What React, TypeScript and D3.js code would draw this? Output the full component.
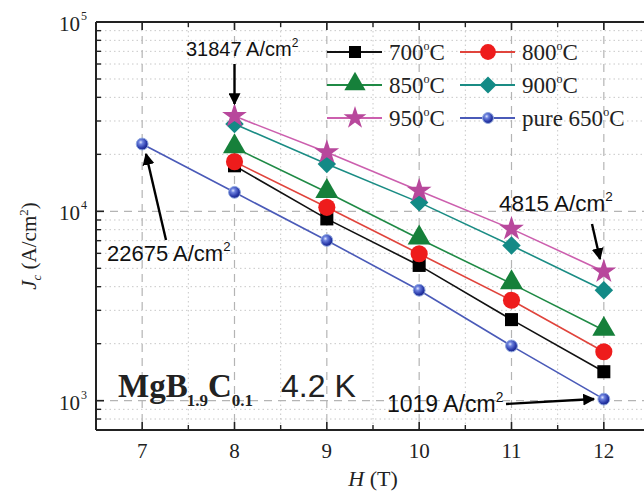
import React from "react";
import * as d3 from "d3";

const fields = [7, 8, 9, 10, 11, 12];
const jc700 = [null, 17400, 9120, 5180, 2680, 1422];
const jc800 = [null, 18300, 10500, 5970, 3390, 1812];
const jc850 = [null, 21700, 12600, 7160, 4150, 2356];
const jc900 = [null, 28900, 17800, 11150, 6600, 3830];
const jc950 = [null, 31847, 20500, 12850, 8080, 4815];
const jcPure = [22675, 12600, 7020, 3830, 1946, 1019];

const seriesNames = ["700°C", "800°C", "850°C", "900°C", "950°C", "pure 650°C"];
const xTicks = [7, 8, 9, 10, 11, 12];
const yMajor = [1000, 10000, 100000];

const W = 644, H = 495;
const x = d3.scaleLinear().domain([6.5, 12.5]).range([96, 650]);
const y = d3.scaleLog().domain([700, 100000]).range([430, 22]);

type S = { name: string; vals: (number | null)[]; line: string; fill: string; shape: string; size: number };
const series: S[] = [
  { name: seriesNames[0], vals: jc700, line: "#111", fill: "#000", shape: "square", size: 170 },
  { name: seriesNames[1], vals: jc800, line: "#e0443c", fill: "#ee1c1c", shape: "circle", size: 230 },
  { name: seriesNames[2], vals: jc850, line: "#1f8a45", fill: "#16803a", shape: "triangle", size: 230 },
  { name: seriesNames[3], vals: jc900, line: "#1a8c84", fill: "#138a86", shape: "diamond", size: 170 },
  { name: seriesNames[4], vals: jc950, line: "#cc5fae", fill: "#b8489c", shape: "star", size: 190 },
  { name: seriesNames[5], vals: jcPure, line: "#4a5ab8", fill: "url(#sph)", shape: "sphere", size: 110 },
];

function Marker({ s, cx, cy, scale = 1 }: { s: S; cx: number; cy: number; scale?: number }) {
  const sz = s.size * scale;
  if (s.shape === "sphere") {
    const r = Math.sqrt(sz / Math.PI);
    return <circle cx={cx} cy={cy} r={r} fill="url(#sph)" stroke="#8fa8e0" strokeWidth={1} />;
  }
  let type: any = d3.symbolSquare;
  let rot = 0;
  if (s.shape === "circle") type = d3.symbolCircle;
  if (s.shape === "triangle") type = d3.symbolTriangle;
  if (s.shape === "star") type = d3.symbolStar;
  if (s.shape === "diamond") { type = d3.symbolSquare; rot = 45; }
  const path = d3.symbol().type(type).size(sz)() as string;
  const dy = s.shape === "triangle" ? -1 : 0;
  return <path d={path} transform={`translate(${cx},${cy + dy}) rotate(${rot})`} fill={s.fill} />;
}

function Arrow({ x1, y1, x2, y2 }: { x1: number; y1: number; x2: number; y2: number }) {
  return <line x1={x1} y1={y1} x2={x2} y2={y2} stroke="#000" strokeWidth={2.4} markerEnd="url(#arr)" />;
}

function Ann({ x: tx, y: ty, v, fs }: { x: number; y: number; v: string; fs: number }) {
  return (
    <text x={tx} y={ty} fontFamily="Liberation Sans, Arial, sans-serif" fontSize={fs} fill="#111">
      {v} A/cm<tspan dy={-fs * 0.45} fontSize={fs * 0.6}>2</tspan>
    </text>
  );
}

export default function App() {
  const [left, right] = x.range();
  const [bottom, top] = y.range();
  const minorY: number[] = [];
  for (let e = 2; e <= 4; e++) for (let k = 1; k <= 9; k++) {
    const v = k * Math.pow(10, e);
    if (v >= 700 && v <= 100000 && k !== 1) minorY.push(v);
  }
  const minorX = [7.5, 8.5, 9.5, 10.5, 11.5, 12.5];
  const lineGen = d3.line<[number, number | null]>()
    .defined((d) => d[1] !== null)
    .x((d) => x(d[0]))
    .y((d) => y(d[1] as number));

  const legendRows = [52, 85, 118];
  const legendCols = [327, 460];

  return (
    <svg width={W} height={H} style={{ position: "absolute", left: 0, top: 0, background: "#fff" }}>
      <defs>
        <radialGradient id="sph" cx="0.38" cy="0.35" r="0.7">
          <stop offset="0" stopColor="#dfe6ff" />
          <stop offset="0.25" stopColor="#6d82de" />
          <stop offset="0.7" stopColor="#2838a8" />
          <stop offset="1" stopColor="#1a2380" />
        </radialGradient>
        <marker id="arr" viewBox="0 0 10 10" refX="9" refY="5" markerWidth="5" markerHeight="5" orient="auto" markerUnits="strokeWidth">
          <path d="M0,0 L10,5 L0,10 z" fill="#000" />
        </marker>
        <clipPath id="plot"><rect x={left} y={top} width={right - left} height={bottom - top} /></clipPath>
      </defs>

      {/* grid */}
      <g clipPath="url(#plot)">
        {minorY.map((v) => (
          <line key={"gy" + v} x1={left} x2={right} y1={y(v)} y2={y(v)} stroke="#c8c8c8" strokeWidth={1} strokeDasharray="1.5,3" />
        ))}
        {minorX.map((v) => (
          <line key={"gx" + v} x1={x(v)} x2={x(v)} y1={top} y2={bottom} stroke="#c8c8c8" strokeWidth={1} strokeDasharray="1.5,3" />
        ))}
        {yMajor.map((v) => (
          <line key={"GY" + v} x1={left} x2={right} y1={y(v)} y2={y(v)} stroke="#b4b4b4" strokeWidth={1.2} strokeDasharray="8,6" />
        ))}
        {xTicks.map((v) => (
          <line key={"GX" + v} x1={x(v)} x2={x(v)} y1={top} y2={bottom} stroke="#b4b4b4" strokeWidth={1.2} strokeDasharray="8,6" />
        ))}
      </g>

      {/* lines */}
      {series.map((s) => (
        <path key={"l" + s.name} d={lineGen(fields.map((f, i) => [f, s.vals[i]]) as any) as string} fill="none" stroke={s.line} strokeWidth={1.6} />
      ))}
      {/* markers */}
      {series.map((s) =>
        fields.map((f, i) => (s.vals[i] === null ? null : <Marker key={s.name + f} s={s} cx={x(f)} cy={y(s.vals[i] as number)} />))
      )}

      {/* axes frame */}
      <line x1={left} x2={left} y1={top} y2={bottom} stroke="#222" strokeWidth={2} />
      <line x1={left} x2={right} y1={bottom} y2={bottom} stroke="#222" strokeWidth={2} />
      <line x1={left} x2={right} y1={top} y2={top} stroke="#222" strokeWidth={2} />
      {/* y ticks */}
      {yMajor.map((v) => (
        <line key={"ty" + v} x1={left} x2={left + 8} y1={y(v)} y2={y(v)} stroke="#222" strokeWidth={1.6} />
      ))}
      {minorY.map((v) => (
        <line key={"tym" + v} x1={left} x2={left + 5} y1={y(v)} y2={y(v)} stroke="#222" strokeWidth={1.4} />
      ))}
      {/* x ticks */}
      {xTicks.map((v) => (
        <g key={"tx" + v}>
          <line x1={x(v)} x2={x(v)} y1={bottom} y2={bottom - 8} stroke="#222" strokeWidth={1.6} />
          <line x1={x(v)} x2={x(v)} y1={top} y2={top + 8} stroke="#222" strokeWidth={1.6} />
        </g>
      ))}
      {minorX.map((v) => (
        <g key={"txm" + v}>
          <line x1={x(v)} x2={x(v)} y1={bottom} y2={bottom - 5} stroke="#222" strokeWidth={1.4} />
          <line x1={x(v)} x2={x(v)} y1={top} y2={top + 5} stroke="#222" strokeWidth={1.4} />
        </g>
      ))}

      {/* tick labels */}
      {xTicks.map((v) => (
        <text key={"xl" + v} x={x(v)} y={bottom + 28} textAnchor="middle" fontFamily="Liberation Serif, Times New Roman, serif" fontSize={21} fill="#222">
          {v}
        </text>
      ))}
      {yMajor.map((v) => (
        <text key={"yl" + v} x={80} y={y(v) + 9} textAnchor="end" fontFamily="Liberation Serif, Times New Roman, serif" fontSize={21} fill="#222">
          10
        </text>
      ))}
      {yMajor.map((v) => (
        <text key={"ye" + v} x={81} y={y(v) - 2} fontFamily="Liberation Serif, Times New Roman, serif" fontSize={12} fill="#222">
          {Math.round(Math.log10(v))}
        </text>
      ))}

      {/* axis titles */}
      <text x={x(9.5)} y={486} textAnchor="middle" fontFamily="Liberation Serif, Times New Roman, serif" fontSize={22} fill="#222">
        <tspan fontStyle="italic">H</tspan> (T)
      </text>
      <text transform="translate(36,246) rotate(-90)" textAnchor="middle" fontFamily="Liberation Serif, Times New Roman, serif" fontSize={21} fill="#222">
        <tspan fontStyle="italic">J</tspan>
        <tspan fontStyle="italic" fontSize={13} dy={5}>c</tspan>
        <tspan dy={-5}> (A/cm</tspan>
        <tspan fontSize={13} dy={-8}>2</tspan>
        <tspan dy={8}>)</tspan>
      </text>

      {/* legend */}
      {series.map((s, i) => {
        const cx = legendCols[i % 2];
        const cy = legendRows[Math.floor(i / 2)];
        return (
          <g key={"lg" + s.name}>
            <line x1={cx} x2={cx + 55} y1={cy} y2={cy} stroke={s.line} strokeWidth={1.8} />
            <Marker s={s} cx={cx + 28} cy={cy} scale={0.85} />
            <text x={cx + 62} y={cy + 8} fontFamily="Liberation Serif, Times New Roman, serif" fontSize={23} fill="#222">
              {s.name.replace("°C", "")}
              <tspan dy={-10} fontSize={12}>o</tspan>
              <tspan dy={10}>C</tspan>
            </text>
          </g>
        );
      })}

      {/* annotations */}
      <Ann x={186} y={56} v="31847" fs={20} />
      <Arrow x1={x(8)} y1={64} x2={x(8)} y2={104} />
      <Ann x={107} y={261} v="22675" fs={22} />
      <Arrow x1={166} y1={240} x2={146} y2={154} />
      <Ann x={499} y={211} v="4815" fs={22.5} />
      <Arrow x1={592} y1={224} x2={600} y2={259} />
      <Ann x={387} y={412} v="1019" fs={23} />
      <Arrow x1={506} y1={404} x2={594} y2={399} />

      {/* sample label */}
      <text x={118} y={397} fontFamily="Liberation Serif, Times New Roman, serif" fontWeight="bold" fontSize={33} fill="#222">
        <tspan>MgB</tspan><tspan fontSize={17} dy={9} dx={-1}>1.9</tspan><tspan dy={-9}>C</tspan><tspan fontSize={17} dy={9}>0.1</tspan>
      </text>
      <text x={281} y={397} fontFamily="Liberation Sans, Arial, sans-serif" fontSize={32} fill="#222">
        4.2 K
      </text>
    </svg>
  );
}
